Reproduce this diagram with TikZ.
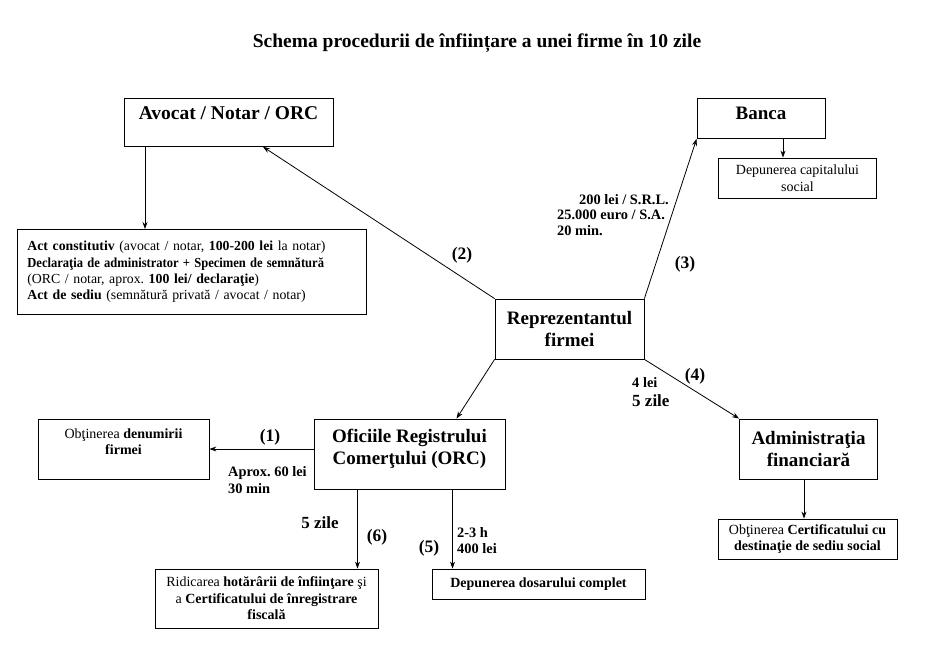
\documentclass[tikz,border=0pt]{standalone}
\usepackage{fontspec}
\usepackage{graphicx}
\setmainfont{Liberation Serif}
\frenchspacing
\usetikzlibrary{arrows.meta}
\newcommand{\fsmall}{\fontsize{14}{16.5}\selectfont}
\newcommand{\fbig}{\fontsize{19}{22}\selectfont\bfseries}
\newcommand{\flab}{\fontsize{17.5}{20}\selectfont\bfseries}
\newcommand{\fzile}{\fontsize{17}{20}\selectfont\bfseries}
\newcommand{\fnote}{\fontsize{14.4}{15.5}\selectfont\bfseries}
\tikzset{
  bx/.style={draw, line width=0.8pt, inner sep=2pt, align=center},
  arr/.style={line width=0.8pt, -{Stealth[length=7pt,width=5pt]}},
  lab/.style={inner sep=0pt, font=\flab},
  note/.style={inner sep=0pt, align=left, font=\fnote, anchor=west},
}
\begin{document}
\begin{tikzpicture}[x=1pt, y=-1pt]
\useasboundingbox (0,0) rectangle (927,652);
% title
\node[inner sep=0pt, font=\fontsize{19.5}{22}\selectfont\bfseries] (title) at (477,43) {Schema procedurii de înființare a unei firme în 10 zile};
% boxes
\node[bx, font=\fontsize{19.5}{22}\selectfont\bfseries, anchor=north, inner sep=0pt, minimum width=209pt, text height=21pt, text depth=27pt] (avocat) at (228.5,98) {Avocat / Notar / ORC};
\node[bx, font=\fbig, anchor=north, inner sep=0pt, minimum width=128pt, text height=21.5pt, text depth=18.5pt] (banca) at (761,98) {Banca};
\node[bx, font=\fsmall, minimum width=158pt, minimum height=40pt] (depcap) at (797.5,178) {Depunerea capitalului\\social};
\node[bx, font=\fontsize{13.8}{16.3}\selectfont, anchor=north west, minimum height=85pt, text width=329pt, inner xsep=10pt, align=left] (act) at (17,229) {\textbf{Act constitutiv} (avocat / notar, \textbf{100-200 lei} la notar)\\
\scalebox{0.91}[1]{\textbf{Declaraţia de administrator + Specimen de semnătură}}\\
(ORC / notar, aprox. \textbf{100 lei/ declaraţie})\\
\textbf{Act de sediu} (semnătură privată / avocat / notar)\par\vspace{12pt}};
\node[bx, font=\fbig, minimum width=149pt, minimum height=60pt] (rep) at (569.5,329) {Reprezentantul\\firmei};
\node[bx, font=\fsmall, minimum width=171pt, minimum height=60pt] (den) at (123.5,449) {Obţinerea \textbf{denumirii}\\\textbf{firmei}\\[-2pt]\mbox{}};
\node[bx, font=\fbig, minimum width=191pt, minimum height=70pt] (orc) at (409.5,454) {Oficiile Registrului\\Comerţului (ORC)\\[-8pt]\mbox{}};
\node[bx, font=\fbig, minimum width=138pt, minimum height=60pt] (adm) at (808.5,449) {Administraţia\\financiară};
\node[bx, font=\fsmall, minimum width=179pt, minimum height=40pt] (cert) at (807.5,539) {Obţinerea \textbf{Certificatului cu}\\\textbf{destinaţie de sediu social}};
\node[bx, font=\fsmall, minimum width=223pt, minimum height=59pt] (ridic) at (266.5,598.5) {Ridicarea \textbf{hotărârii de înfiinţare} şi\\a \textbf{Certificatului de înregistrare}\\\textbf{fiscală}};
\node[bx, font=\fsmall\bfseries, minimum width=213pt, minimum height=30pt] (dosar) at (538.5,584) {Depunerea dosarului complet};
% connectors
\draw[arr] ([xshift=-83.5pt]avocat.south) -- ([xshift=-83.5pt]avocat.south |- act.north);
\draw[arr] (rep.north west) -- ([xshift=34.5pt]avocat.south);
\draw[arr] (rep.north east) -- (banca.south west);
\draw[arr] ([xshift=22pt]banca.south) -- ([xshift=22pt]banca.south |- depcap.north);
\draw[arr] (rep.south west) -- ([xshift=47pt]orc.north);
\draw[arr] (rep.south east) -- (adm.north west);
\draw[arr] (den.east -| orc.west) -- (den.east);
\draw[arr] ([xshift=-52pt]orc.south) -- ([xshift=-52pt]orc.south |- ridic.north);
\draw[arr] ([xshift=43pt]orc.south) -- ([xshift=43pt]orc.south |- dosar.north);
\draw[arr] ([xshift=-4.5pt]adm.south) -- ([xshift=-4.5pt]adm.south |- cert.north);
% labels
\node[lab] (l2) at (462,255) {(2)};
\node[lab] (l3) at (685,264) {(3)};
\node[note, anchor=north west] (costb) at (557,194) {\hspace*{22pt}200 lei / S.R.L.\\25.000 euro / S.A.\\20 min.};
\node[lab] (l4) at (695,376) {(4)};
\node[note] (c4a) at (632,383) {4 lei};
\node[note, font=\fzile] (c4b) at (632,401) {5 zile};
\node[lab] (l1) at (270,437) {(1)};
\node[note] (c1a) at (228,473) {Aprox. 60 lei};
\node[note] (c1b) at (228,489) {30 min};
\node[inner sep=0pt, font=\fzile] (z6) at (320,523) {5 zile};
\node[lab] (l6) at (377,537) {(6)};
\node[lab] (l5) at (429,548) {(5)};
\node[note] (c5a) at (457,533) {2-3 h};
\node[note] (c5b) at (457,549) {400 lei};
\end{tikzpicture}
\end{document}
